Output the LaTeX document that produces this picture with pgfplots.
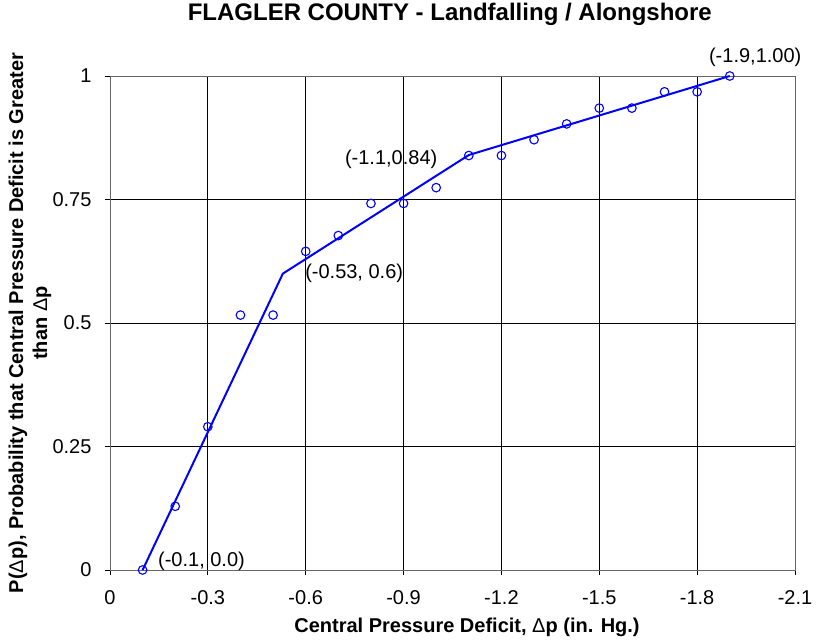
\documentclass[border=0pt]{standalone}
\usepackage{pgfplots}
\pgfplotsset{compat=1.18}
\usepackage{fontspec}
\setmainfont{Liberation Sans}
\definecolor{lineblue}{RGB}{0,0,255}
\begin{document}
\begin{tikzpicture}
\useasboundingbox (-110pt,-74pt) rectangle (709pt,570pt);
\begin{axis}[
  at={(0pt,0pt)}, anchor=south west,
  scale only axis, width=685pt, height=494pt,
  x dir=reverse,
  xmin=-2.1, xmax=0, ymin=0, ymax=1,
  xtick={0,-0.3,-0.6,-0.9,-1.2,-1.5,-1.8,-2.1},
  xticklabels={0,-0.3,-0.6,-0.9,-1.2,-1.5,-1.8,-2.1},
  ytick={0,0.25,0.5,0.75,1},
  yticklabels={0,0.25,0.5,0.75,1},
  tick align=outside, xtick pos=left, ytick pos=left,
  major tick length=5pt,
  tick style={black, line width=0.8pt},
  grid=major, grid style={black, line width=0.8pt},
  axis line style={gray!80!black, line width=0.8pt},
  ticklabel style={font=\fontsize{20}{24}\selectfont},
  xticklabel style={anchor=base, yshift=-30pt},
  yticklabel style={anchor=east, xshift=-10pt},
  title={FLAGLER COUNTY - Landfalling / Alongshore},
  title style={font=\fontsize{24}{28}\selectfont\bfseries, at={(axis description cs:0.496,1.0992)}, anchor=base},
  xlabel={Central Pressure Deficit, {\mdseries Δ}p (in. Hg.)},
  xlabel style={font=\fontsize{20}{24}\selectfont\bfseries, at={(axis description cs:0.5212,-0.1275)}, anchor=base},
  ylabel={P({\mdseries Δ}p), Probability that Central Pressure Deficit is Greater\\than {\mdseries Δ}p},
  ylabel style={font=\fontsize{20}{24}\selectfont\bfseries, align=center, at={(axis description cs:-0.1168,0.5)}, anchor=center, rotate=0},
  clip=false,
]
\addplot[lineblue, line width=2pt] coordinates {
  (-0.1,0) (-0.53,0.6) (-1.1,0.84) (-1.9,1.0)
};
\addplot[only marks, mark=o, mark size=4.3pt, lineblue, mark options={line width=1.1pt}] coordinates {
  (-0.1,0) (-0.2,0.129) (-0.3,0.290) (-0.4,0.516) (-0.5,0.516)
  (-0.6,0.645) (-0.7,0.677) (-0.8,0.742) (-0.9,0.742) (-1.0,0.774)
  (-1.1,0.839) (-1.2,0.839) (-1.3,0.871) (-1.4,0.903) (-1.5,0.935)
  (-1.6,0.935) (-1.7,0.968) (-1.8,0.968) (-1.9,1.0)
};
\node[anchor=base west, inner sep=0pt, font=\fontsize{20}{24}\selectfont] at (axis cs:-1.836,1.028) {(-1.9,1.00)};
\node[anchor=base west, inner sep=0pt, font=\fontsize{20}{24}\selectfont] at (axis cs:-0.720,0.820) {(-1.1,0.84)};
\node[anchor=base west, inner sep=0pt, font=\fontsize{20}{24}\selectfont] at (axis cs:-0.598,0.591) {(-0.53, 0.6)};
\node[anchor=base west, inner sep=0pt, font=\fontsize{20}{24}\selectfont] at (axis cs:-0.147,0.0067) {(-0.1, 0.0)};
\end{axis}
\end{tikzpicture}
\end{document}
